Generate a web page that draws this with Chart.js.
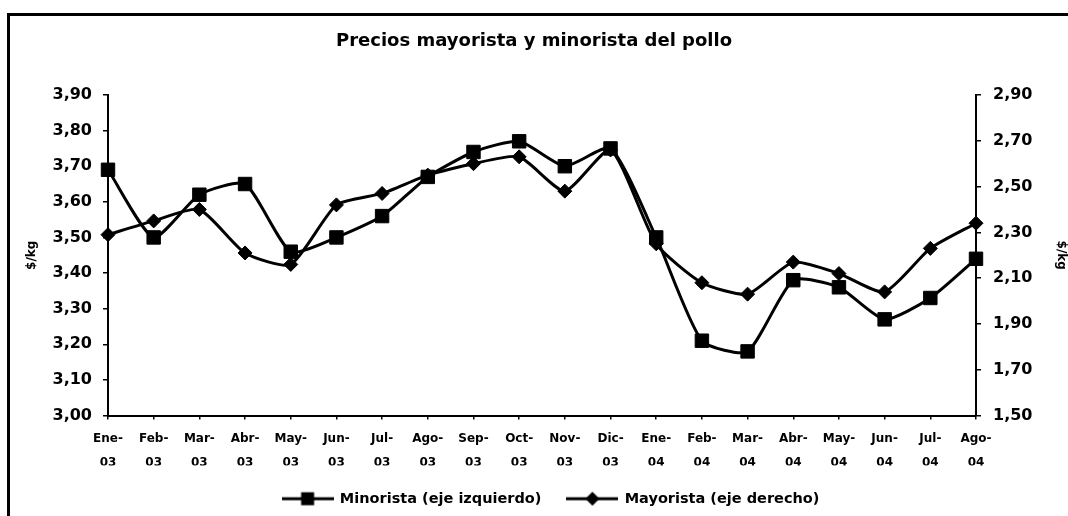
<!DOCTYPE html>
<html>
<head>
    <meta http-equiv="Content-Type" content="text/html; charset=UTF-8">
    <title>Precios mayorista y minorista del pollo</title>
    <script src="https://cdn.jsdelivr.net/npm/chart.js@4.4.1/dist/chart.umd.min.js"></script>
    <style>
        html, body { margin: 0; padding: 0; background: #fff; }
        #wrap { width: 1068px; height: 516px; }
    </style>
</head>
<body>
<div id="wrap">
    <canvas id="myChart" width="1068" height="516"></canvas>
</div>
<script>
    // meses (dos lineas por etiqueta)
    var meses = ['Ene-', 'Feb-', 'Mar-', 'Abr-', 'May-', 'Jun-', 'Jul-', 'Ago-', 'Sep-', 'Oct-', 'Nov-', 'Dic-',
                 'Ene-', 'Feb-', 'Mar-', 'Abr-', 'May-', 'Jun-', 'Jul-', 'Ago-'];
    var anios = ['03', '03', '03', '03', '03', '03', '03', '03', '03', '03', '03', '03',
                 '04', '04', '04', '04', '04', '04', '04', '04'];

    // $/kg, eje izquierdo
    var minorista = [3.69, 3.50, 3.62, 3.65, 3.46, 3.50, 3.56, 3.67, 3.74, 3.77,
                     3.70, 3.75, 3.50, 3.21, 3.18, 3.38, 3.36, 3.27, 3.33, 3.44];
    // $/kg, eje derecho
    var mayorista = [2.29, 2.35, 2.40, 2.21, 2.16, 2.42, 2.47, 2.55, 2.60, 2.63,
                     2.48, 2.66, 2.25, 2.08, 2.03, 2.17, 2.12, 2.04, 2.23, 2.34];

    var FONT = "'DejaVu Sans', sans-serif";
    var labels = meses.map(function (m, i) { return [m, anios[i]]; });
    var coma = function (v) { return Number(v).toFixed(2).replace('.', ','); };

    // little line+marker pictures for the legend
    function legendIcon(style) {
        var c = document.createElement('canvas');
        c.width = 52; c.height = 16;
        var g = c.getContext('2d');
        g.strokeStyle = '#000'; g.lineWidth = 3;
        g.beginPath(); g.moveTo(0, 8); g.lineTo(52, 8); g.stroke();
        g.fillStyle = '#000';
        if (style === 'rect') {
            g.fillRect(26 - 6.5, 8 - 6.5, 13, 13);
        } else {
            g.beginPath(); g.moveTo(26 - 7, 8); g.lineTo(26, 1); g.lineTo(26 + 7, 8); g.lineTo(26, 15); g.closePath(); g.fill();
        }
        return c;
    }

    // black frame round the chart (top and left edges show)
    var marco = {
        id: 'marco',
        afterLayout: function (chart) {
            // legend in the original sits a bit right of centre
            chart.legend.left += 34;
        },
        afterDraw: function (chart) {
            var ctx = chart.ctx;
            ctx.save();
            ctx.strokeStyle = '#000';
            ctx.lineWidth = 3;
            ctx.beginPath();
            ctx.moveTo(8.5, 516);
            ctx.lineTo(8.5, 14.5);
            ctx.lineTo(1068, 14.5);
            ctx.stroke();
            ctx.restore();
        }
    };

    var ctx = document.getElementById('myChart').getContext('2d');
    var chart = new Chart(ctx, {
        type: 'line',
        data: {
            labels: labels,
            datasets: [{
                label: 'Minorista (eje izquierdo)',
                data: minorista,
                yAxisID: 'y',
                borderColor: '#000',
                backgroundColor: '#000',
                borderWidth: 3,
                tension: 0.2,
                pointStyle: 'rect',
                pointRadius: 9.5,
                pointBorderWidth: 1,
                clip: false
            }, {
                label: 'Mayorista (eje derecho)',
                data: mayorista,
                yAxisID: 'y1',
                borderColor: '#000',
                backgroundColor: '#000',
                borderWidth: 3,
                tension: 0.2,
                pointStyle: 'rectRot',
                pointRadius: 7,
                pointBorderWidth: 1,
                clip: false
            }]
        },
        options: {
            responsive: false,
            animation: false,
            layout: { padding: { top: 0, left: 0, right: 0, bottom: 0 } },
            plugins: {
                title: {
                    display: true,
                    text: 'Precios mayorista y minorista del pollo',
                    color: '#000',
                    font: { family: FONT, size: 18, weight: 'bold' },
                    padding: { top: 31, bottom: 42.4 }
                },
                legend: {
                    position: 'bottom',
                    labels: {
                        color: '#000',
                        font: { family: FONT, size: 14.5, weight: 'bold' },
                        usePointStyle: true,
                        pointStyleWidth: 50,
                        padding: 26,
                        generateLabels: function (ch) {
                            return ch.data.datasets.map(function (ds, i) {
                                return {
                                    text: ds.label,
                                    pointStyle: legendIcon(ds.pointStyle),
                                    fillStyle: '#000',
                                    strokeStyle: '#000',
                                    lineWidth: 0,
                                    fontColor: '#000',
                                    datasetIndex: i
                                };
                            });
                        }
                    }
                },
                tooltip: { enabled: false }
            },
            scales: {
                x: {
                    offset: false,
                    border: { display: true, color: '#000', width: 2 },
                    grid: { display: true, drawOnChartArea: false, drawTicks: true, tickLength: 4, color: '#000', lineWidth: 1.5 },
                    ticks: {
                        color: '#000',
                        maxRotation: 0,
                        autoSkip: false,
                        padding: 7,
                        font: { family: FONT, size: 12, weight: 'bold', lineHeight: 2 }
                    },
                    afterFit: function (s) { s.height = 50; }
                },
                y: {
                    position: 'left',
                    min: 3.0,
                    max: 3.9,
                    border: { display: true, color: '#000', width: 2 },
                    grid: { display: true, drawOnChartArea: false, drawTicks: true, tickLength: 5, color: '#000', lineWidth: 1.5 },
                    ticks: {
                        stepSize: 0.1,
                        color: '#000',
                        padding: 11,
                        font: { family: FONT, size: 16, weight: 'bold' },
                        callback: coma
                    },
                    title: {
                        display: true,
                        text: '$/kg',
                        color: '#000',
                        font: { family: FONT, size: 12, weight: 'bold' },
                        padding: { top: 25, bottom: 0 }
                    },
                    afterFit: function (s) { s.width = 108; }
                },
                y1: {
                    position: 'right',
                    min: 1.5,
                    max: 2.9,
                    border: { display: true, color: '#000', width: 2 },
                    grid: { display: true, drawOnChartArea: false, drawTicks: true, tickLength: 5, color: '#000', lineWidth: 1.5 },
                    ticks: {
                        stepSize: 0.2,
                        color: '#000',
                        padding: 12,
                        font: { family: FONT, size: 16, weight: 'bold' },
                        callback: coma
                    },
                    title: {
                        display: true,
                        text: '$/kg',
                        color: '#000',
                        font: { family: FONT, size: 12, weight: 'bold' },
                        padding: { top: 0, bottom: 0 }
                    },
                    afterFit: function (s) { s.width = 92; }
                }
            }
        },
        plugins: [marco]
    });
</script>
</body>
</html>
